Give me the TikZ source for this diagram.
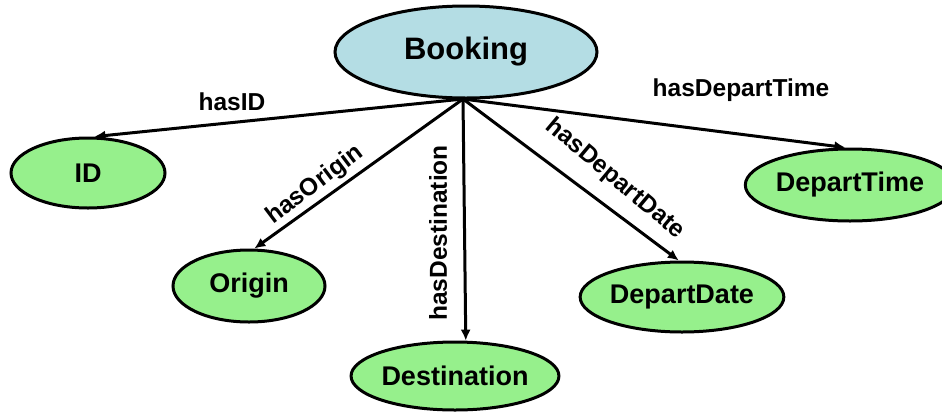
\documentclass[tikz,border=0pt]{standalone}
\usepackage{fontspec}
\setmainfont{Liberation Sans}
\usetikzlibrary{shapes.geometric,arrows.meta}

\definecolor{classblue}{RGB}{180,221,228}
\definecolor{propgreen}{RGB}{150,240,140}

\tikzset{
  concept/.style={ellipse, draw=black, line width=3pt, inner sep=0pt,
    font=\fontsize{27}{30}\selectfont\bfseries},
  rootconcept/.style={concept, fill=classblue, font=\fontsize{31}{34}\selectfont\bfseries},
  leafconcept/.style={concept, fill=propgreen},
  relation/.style={line width=3pt, -{Latex[length=11pt,width=10pt]}},
  rellabel/.style={inner sep=0pt, font=\fontsize{24.5}{27}\selectfont\bfseries}
}

\begin{document}
\begin{tikzpicture}[x=1pt,y=-1pt]
  \useasboundingbox (0,0) rectangle (942,413);

  % classes
  \node[rootconcept, minimum width=262pt, minimum height=92pt] (booking) at (466,52) {Booking};
  \node[leafconcept, minimum width=154pt, minimum height=70pt] (id) at (88,173) {ID};
  \node[leafconcept, minimum width=152pt, minimum height=72pt] (origin) at (249,286) {Origin};
  \node[leafconcept, minimum width=185pt, minimum height=68pt] (dest) at (455,376) {Destination};
  \node[leafconcept, minimum width=195pt, minimum height=70pt] (ddate) at (682,297) {DepartDate};
  \node[leafconcept, minimum width=182pt, minimum height=72pt] (dtime) at (850,185) {DepartTime};

  % common origin of the properties
  \coordinate (hub) at (463,99);

  % properties
  \draw[relation] (hub) -- (id.80);
  \draw[relation] (hub) -- (origin.82);
  \draw[relation] (hub) -- (dest.73);
  \draw[relation] (hub) -- (ddate.95);
  \draw[relation] (hub) -- (dtime.97);

  % property names
  \node[rellabel] (lid) at (232,102) {hasID};
  \node[rellabel, rotate=37] (lorigin) at (315,185) {hasOrigin};
  \node[rellabel, rotate=90] (ldest) at (438,233) {hasDestination};
  \node[rellabel, rotate=-40] (lddate) at (615,179) {hasDepartDate};
  \node[rellabel] (ldtime) at (741,90) {hasDepartTime};
\end{tikzpicture}
\end{document}
